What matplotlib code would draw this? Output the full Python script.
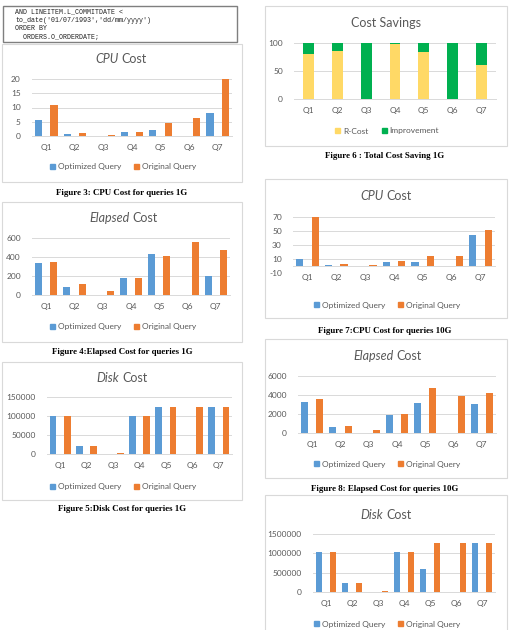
import matplotlib.pyplot as plt
from matplotlib.patches import Rectangle, Patch

W, H = 510, 630

QUERIES = ["Q1", "Q2", "Q3", "Q4", "Q5", "Q6", "Q7"]

CPU_1G_OPT = [5.6, 0.8, 0, 1.3, 2.1, 0, 8.2]
CPU_1G_ORIG = [10.9, 1.0, 0.5, 1.3, 4.5, 6.2, 20]
ELAPSED_1G_OPT = [335, 88, 0, 180, 434, 0, 205]
ELAPSED_1G_ORIG = [350, 116, 42, 184, 410, 561, 476]
DISK_1G_OPT = [101000, 22000, 0, 101000, 124000, 0, 124000]
DISK_1G_ORIG = [101000, 22000, 3500, 101000, 124000, 124000, 124000]

R_COST = [81, 86, 0, 98, 84, 0, 61]
IMPROVEMENT = [19, 14, 100, 2, 16, 100, 39]

CPU_10G_OPT = [9.5, 2, 0, 6, 6, 0, 44]
CPU_10G_ORIG = [70, 3, 1.5, 7, 14, 15, 52]
ELAPSED_10G_OPT = [3260, 630, 0, 1900, 3120, 0, 3050]
ELAPSED_10G_ORIG = [3540, 700, 300, 1960, 4700, 3900, 4250]
DISK_10G_OPT = [1030000, 220000, 0, 1030000, 600000, 0, 1260000]
DISK_10G_ORIG = [1040000, 220000, 30000, 1030000, 1260000, 1260000, 1260000]

CODE_LINES = [
    "AND LINEITEM.L_COMMITDATE <",
    "to_date('01/07/1993','dd/mm/yyyy')",
    "ORDER BY",
    "  ORDERS.O_ORDERDATE;",
]

BLUE = "#5B9BD5"
ORANGE = "#ED7D31"
YELLOW = "#FFD966"
GREEN = "#00B050"
GREY = "#595959"
GRID = "#D9D9D9"
FONT = "Lato"

plt.rcParams["font.family"] = FONT

fig = plt.figure(figsize=(W / 100, H / 100), dpi=100)


def fx(x):
    return x / W


def fy(y):
    return 1 - y / H


def box(x0, y0, x1, y1, color="#D9D9D9", lw=0.8):
    fig.patches.append(Rectangle((fx(x0), fy(y1)), fx(x1 - x0), (y1 - y0) / H,
                                 transform=fig.transFigure, fill=False,
                                 edgecolor=color, linewidth=lw))


def make_axes(x0, y0, x1, y1):
    ax = fig.add_axes([fx(x0), fy(y1), fx(x1 - x0), (y1 - y0) / H])
    for side in ["top", "right", "left"]:
        ax.spines[side].set_visible(False)
    ax.spines["bottom"].set_color(GRID)
    ax.spines["bottom"].set_linewidth(0.7)
    ax.set_xlim(-0.5, 6.5)
    ax.set_xticks(range(len(QUERIES)), QUERIES)
    ax.tick_params(axis="x", length=0, pad=6, labelsize=6, labelcolor=GREY)
    ax.tick_params(axis="y", length=0, pad=8, labelsize=6, labelcolor=GREY)
    ax.grid(axis="y", color=GRID, linewidth=0.7)
    ax.set_axisbelow(True)
    return ax


def title(split, y, word_italic, word_plain):
    fig.text(fx(split - 1.5), fy(y), word_italic, style="italic", ha="right",
             va="center", fontsize=9, color=GREY)
    fig.text(fx(split + 1.5), fy(y), word_plain, ha="left", va="center",
             fontsize=9, color=GREY)


def legend(cx, cy, labels, colors):
    handles = [Patch(facecolor=c, edgecolor=c) for c in colors]
    fig.legend(handles, labels, loc="center", bbox_to_anchor=(fx(cx), fy(cy)),
               ncol=2, frameon=False, fontsize=6, labelcolor=GREY,
               handlelength=0.6, handleheight=0.6, handletextpad=0.3,
               columnspacing=1.6, borderpad=0)


def caption(cx, cy, text):
    fig.text(fx(cx), fy(cy), text, ha="center", va="center", fontsize=6.4,
             fontweight="bold", family="Liberation Serif", color="black")


def pair_chart(rect, opt, orig, ylim, ticks):
    ax = make_axes(*rect)
    xs = range(len(QUERIES))
    ax.bar([x - 0.27 for x in xs], opt, width=0.25, color=BLUE)
    ax.bar([x + 0.27 for x in xs], orig, width=0.25, color=ORANGE)
    ax.set_ylim(*ylim)
    ax.set_yticks(ticks, [str(t) for t in ticks])
    return ax


# code box
box(3, 6, 237, 42, color="#7F7F7F", lw=1.0)
for i, line in enumerate(CODE_LINES):
    fig.text(fx(15), fy(12 + i * 8.4), line, family="Liberation Mono",
             fontsize=4.8, va="center", ha="left", color="#222222")

series_labels = ["Optimized Query", "Original Query"]

# Figure 3
box(2, 44, 242, 182)
pair_chart((32, 79, 232, 136), CPU_1G_OPT, CPU_1G_ORIG, (0, 20), [0, 5, 10, 15, 20])
title(120, 59, "CPU", "Cost")
legend(123, 167, series_labels, [BLUE, ORANGE])
caption(122, 193, "Figure 3: CPU Cost for queries 1G")

# Figure 4
box(2, 202, 242, 342)
pair_chart((32, 238, 230, 295), ELAPSED_1G_OPT, ELAPSED_1G_ORIG, (0, 600), [0, 200, 400, 600])
title(131, 218, "Elapsed", "Cost")
legend(123, 327, series_labels, [BLUE, ORANGE])
caption(122, 352, "Figure 4:Elapsed Cost for queries 1G")

# Figure 5
box(2, 362, 242, 500)
pair_chart((47, 397, 232, 454), DISK_1G_OPT, DISK_1G_ORIG, (0, 150000), [0, 50000, 100000, 150000])
title(121, 378, "Disk", "Cost")
legend(123, 487, series_labels, [BLUE, ORANGE])
caption(122, 509, "Figure 5:Disk Cost for queries 1G")

# Figure 6
box(265, 6, 507, 146)
ax = make_axes(294, 43, 496, 99)
ax.bar(range(len(QUERIES)), R_COST, width=0.38, color=YELLOW)
ax.bar(range(len(QUERIES)), IMPROVEMENT, width=0.38, bottom=R_COST, color=GREEN)
ax.set_ylim(0, 100)
ax.set_yticks([0, 50, 100])
fig.text(fx(386), fy(23), "Cost Savings", ha="center", va="center", fontsize=9, color=GREY)
legend(387, 131, ["R-Cost", "Improvement"], [YELLOW, GREEN])
caption(385, 156, "Figure 6 : Total Cost Saving 1G")

# Figure 7
box(265, 179, 507, 318)
ax = pair_chart((293, 217, 495, 273), CPU_10G_OPT, CPU_10G_ORIG, (-10, 70), [-10, 10, 30, 50, 70])
ax.spines["bottom"].set_position(("data", 0))
title(385, 196, "CPU", "Cost")
legend(387, 305, series_labels, [BLUE, ORANGE])
caption(385, 331, "Figure 7:CPU Cost for queries 10G")

# Figure 8
box(265, 339, 507, 478)
pair_chart((298, 376, 496, 433), ELAPSED_10G_OPT, ELAPSED_10G_ORIG, (0, 6000), [0, 2000, 4000, 6000])
title(395, 356, "Elapsed", "Cost")
legend(387, 464, series_labels, [BLUE, ORANGE])
caption(385, 489, "Figure 8: Elapsed Cost for queries 10G")

# Disk 10G
box(265, 495, 507, 640)
pair_chart((313, 534, 495, 592), DISK_10G_OPT, DISK_10G_ORIG, (0, 1500000),
           [0, 500000, 1000000, 1500000])
title(385, 515, "Disk", "Cost")
legend(387, 624, series_labels, [BLUE, ORANGE])

fig.savefig("out.png", dpi=100)
